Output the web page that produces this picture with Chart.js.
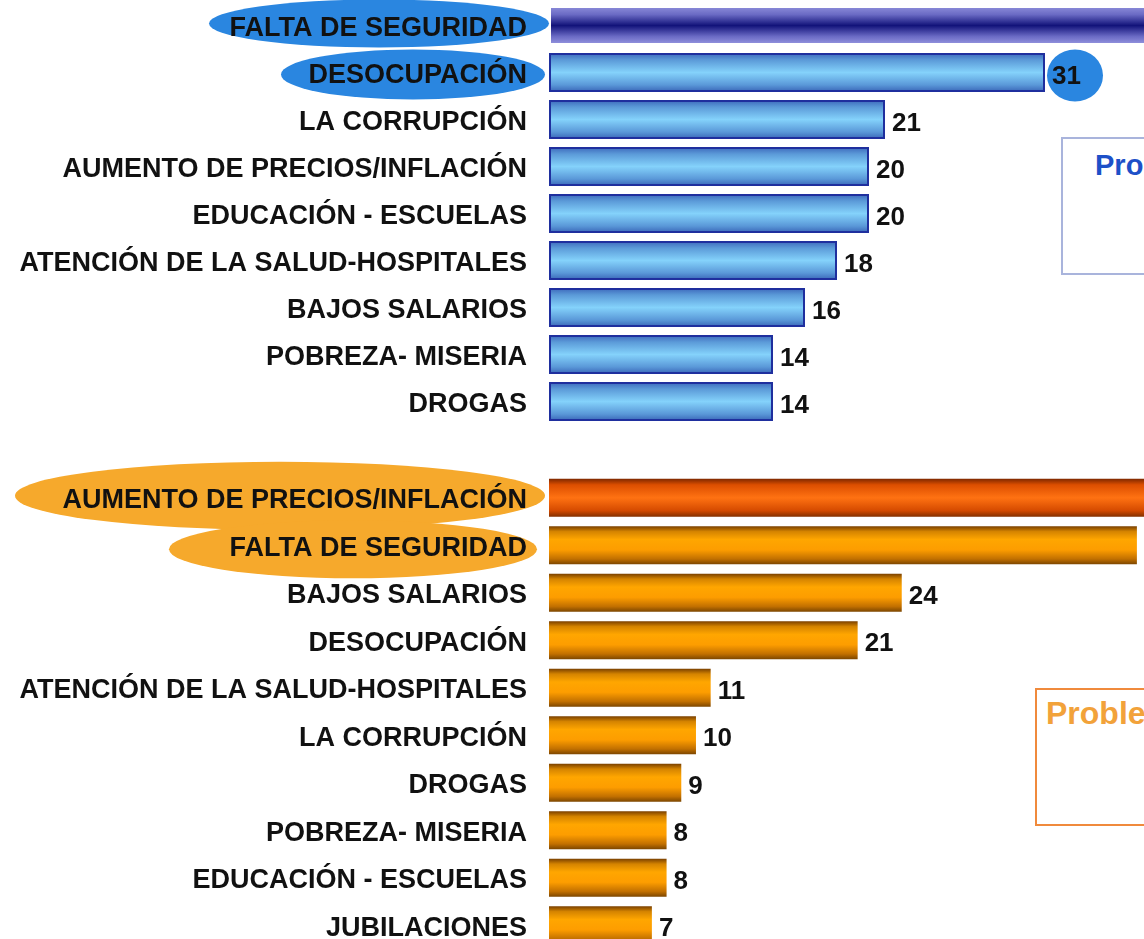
<!DOCTYPE html>
<html>
<head>
<meta charset="utf-8">
<script src="https://cdn.jsdelivr.net/npm/chart.js@4"></script>
<style>
  html, body { margin: 0; padding: 0; background: #fff; }
  #page { position: relative; width: 1144px; height: 939px; overflow: hidden; background: #fff; }
  #page canvas { position: absolute; left: 0; }
  .box { position: absolute; width: 320px; height: 138px; background: #fff; box-sizing: border-box;
         font-family: "Liberation Sans", Arial, sans-serif; font-weight: bold; white-space: nowrap; }
  #boxTop { left: 1061px; top: 137px; border: 2px solid #a9b4dc; color: #1d50c8; font-size: 29px; padding: 10px 0 0 32px; }
  #boxBottom { left: 1035px; top: 688px; border: 2px solid #f08a3c; color: #f2a23a; font-size: 32px; padding: 5px 0 0 9px; }
</style>
</head>
<body>
<div id="page">
  <canvas id="chartTop" width="1669" height="425" style="top:0"></canvas>
  <canvas id="chartBottom" width="1666" height="499" style="top:450px"></canvas>
  <div class="box" id="boxTop">Problemas</div>
  <div class="box" id="boxBottom">Problemas</div>
</div>
<script>
// primer grafico (azul)
const topLabels = ['FALTA DE SEGURIDAD', 'DESOCUPACIÓN', 'LA CORRUPCIÓN', 'AUMENTO DE PRECIOS/INFLACIÓN',
  'EDUCACIÓN - ESCUELAS', 'ATENCIÓN DE LA SALUD-HOSPITALES', 'BAJOS SALARIOS', 'POBREZA- MISERIA', 'DROGAS'];
const topValues = [46, 31, 21, 20, 20, 18, 16, 14, 14];

// segundo grafico (naranja)
const bottomLabels = ['AUMENTO DE PRECIOS/INFLACIÓN', 'FALTA DE SEGURIDAD', 'BAJOS SALARIOS', 'DESOCUPACIÓN',
  'ATENCIÓN DE LA SALUD-HOSPITALES', 'LA CORRUPCIÓN', 'DROGAS', 'POBREZA- MISERIA', 'EDUCACIÓN - ESCUELAS', 'JUBILACIONES'];
const bottomValues = [44, 40, 24, 21, 11, 10, 9, 8, 8, 7];

const FONT = '"Liberation Sans", Arial, sans-serif';

const blueStops = [[0, '#3b66ba'], [0.18, '#5b9ad8'], [0.5, '#84d2fb'], [0.82, '#5a98d8'], [1, '#3864b6']];
const navyStops = [[0, '#9090dc'], [0.22, '#6a6ac4'], [0.5, '#12137a'], [0.78, '#6a6ac4'], [1, '#9a9ae2']];
const orangeStops = [[0, '#7a4000'], [0.14, '#d58400'], [0.35, '#ffa600'], [0.62, '#fd9d00'], [0.86, '#c27000'], [1, '#7c4600']];
const redStops = [[0, '#7e2800'], [0.16, '#dc4e00'], [0.5, '#ff7212'], [0.84, '#d44a00'], [1, '#833000']];

function gradientFor(stops, firstStops, barPct) {
    return (context) => {
        const chart = context.chart;
        const yScale = chart.scales.y;
        const s = context.dataIndex === 0 ? firstStops : stops;
        if (!yScale || !chart.chartArea || context.dataIndex === undefined) return s[2][1];
        const n = chart.data.labels.length;
        const half = yScale.height / n * barPct / 2;
        const c = yScale.getPixelForValue(context.dataIndex);
        if (!isFinite(c) || !isFinite(half)) return s[2][1];
        const g = chart.ctx.createLinearGradient(0, c - half, 0, c + half);
        s.forEach(([pos, col]) => g.addColorStop(pos, col));
        return g;
    };
}

// ovalos detras de las etiquetas y numeros
const highlightPlugin = {
    id: 'highlight',
    beforeDraw(chart, args, opts) {
        const ctx = chart.ctx;
        const yScale = chart.scales.y;
        ctx.save();
        ctx.fillStyle = opts.color;
        (opts.ovals || []).forEach(o => {
            const cy = yScale.getPixelForValue(o.index) + o.dy;
            ctx.beginPath();
            ctx.ellipse(o.cx, cy, o.rx, o.ry, 0, 0, Math.PI * 2);
            ctx.fill();
        });
        ctx.restore();
    }
};

const valueLabelPlugin = {
    id: 'valueLabels',
    afterDatasetsDraw(chart, args, opts) {
        const ctx = chart.ctx;
        const meta = chart.getDatasetMeta(0);
        const values = chart.data.datasets[0].data;
        ctx.save();
        meta.data.forEach((bar, i) => {
            if (opts.circle && opts.circle.index === i) {
                ctx.fillStyle = opts.circle.color;
                ctx.beginPath();
                ctx.ellipse(bar.x + 30, bar.y + 3, 28, 26, 0, 0, Math.PI * 2);
                ctx.fill();
            }
            ctx.fillStyle = '#111';
            ctx.font = 'bold 26px ' + FONT;
            ctx.textAlign = 'left';
            ctx.textBaseline = 'middle';
            ctx.fillText(values[i], bar.x + 7, bar.y + 4);
        });
        ctx.restore();
    }
};

function makeChart(id, labels, values, cfg) {
    return new Chart(document.getElementById(id), {
        type: 'bar',
        data: {
            labels: labels,
            datasets: [{
                data: values,
                backgroundColor: gradientFor(cfg.stops, cfg.firstStops, cfg.barPct),
                borderColor: cfg.border,
                borderWidth: cfg.borderWidth,
                borderSkipped: false,
                barPercentage: cfg.barPct,
                categoryPercentage: 1
            }]
        },
        options: {
            indexAxis: 'y',
            responsive: false,
            animation: false,
            layout: { padding: { top: cfg.padTop, right: 0, bottom: 0, left: 0 } },
            scales: {
                x: { display: false, min: 0, max: cfg.max },
                y: {
                    grid: { display: false, drawTicks: false },
                    border: { display: false },
                    ticks: {
                        autoSkip: false,
                        padding: 22,
                        labelOffset: 3,
                        color: '#111',
                        font: { family: FONT, size: 27, weight: 'bold' }
                    },
                    afterFit: (scale) => {
                        scale.width = 549;
                        scale.paddingTop = 0;
                        scale.paddingBottom = 0;
                    }
                }
            },
            plugins: {
                legend: { display: false },
                tooltip: { enabled: false },
                highlight: cfg.highlight,
                valueLabels: cfg.valueLabels
            }
        },
        plugins: [highlightPlugin, valueLabelPlugin]
    });
}

makeChart('chartTop', topLabels, topValues, {
    stops: blueStops, firstStops: navyStops, barPct: 0.83, max: 70, padTop: 2,
    border: (c) => c.dataIndex === 0 ? 'rgba(0,0,0,0)' : '#1f2f9e', borderWidth: 2,
    highlight: {
        color: '#2a86e0',
        ovals: [
            { index: 0, cx: 379, dy: -2, rx: 170, ry: 24 },
            { index: 1, cx: 413, dy: 2, rx: 132, ry: 25 }
        ]
    },
    valueLabels: { circle: { index: 1, color: '#2a86e0' } }
});

makeChart('chartBottom', bottomLabels, bottomValues, {
    stops: orangeStops, firstStops: redStops, barPct: 0.8, max: 76, padTop: 24,
    border: 'rgba(0,0,0,0)', borderWidth: 0,
    highlight: {
        color: '#f6a92c',
        ovals: [
            { index: 0, cx: 280, dy: -2, rx: 265, ry: 34 },
            { index: 1, cx: 353, dy: 4, rx: 184, ry: 29 }
        ]
    },
    valueLabels: {}
});
</script>
</body>
</html>
